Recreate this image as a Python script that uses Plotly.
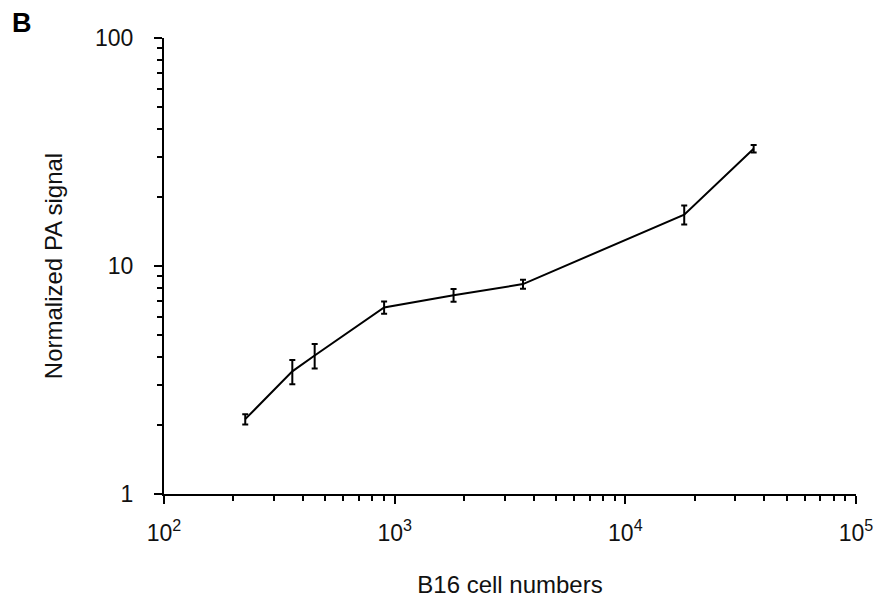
import plotly.graph_objects as go

cells = [225, 360, 450, 900, 1800, 3600, 18000, 36000]
signal = [2.13, 3.45, 4.05, 6.58, 7.45, 8.33, 16.8, 32.7]
err = [0.11, 0.42, 0.5, 0.4, 0.48, 0.38, 1.6, 1.2]

x_ticks = [100, 1000, 10000, 100000]
x_ticktext = ["10<sup>2</sup>", "10<sup>3</sup>", "10<sup>4</sup>", "10<sup>5</sup>"]
y_ticks = [1, 10, 100]
y_ticktext = ["1", "10", "100"]

x_minor = [m * 10 ** e for e in (2, 3, 4) for m in range(2, 10)]
y_minor = [m * 10 ** e for e in (0, 1) for m in range(2, 10)]

font = "Liberation Sans, Arial, sans-serif"

fig = go.Figure()
fig.add_trace(go.Scatter(
    x=cells, y=signal, mode="lines",
    line=dict(color="black", width=2),
    error_y=dict(type="data", array=err, visible=True, color="black",
                 thickness=2, width=3),
    showlegend=False,
))

fig.update_layout(
    width=878, height=598,
    margin=dict(l=164, r=22, t=38, b=104),
    plot_bgcolor="white", paper_bgcolor="white",
    font=dict(family=font, size=23, color="#111111"),
    xaxis=dict(
        type="log", range=[2, 5], tickvals=x_ticks, ticktext=x_ticktext,
        automargin=False,
        showgrid=False, zeroline=False, showline=True, linecolor="black", linewidth=2,
        ticks="outside", ticklen=8, tickwidth=2, tickcolor="black",
        ticklabelstandoff=9,
        minor=dict(tickvals=x_minor, ticks="outside", ticklen=5, tickwidth=2,
                   tickcolor="black", showgrid=False),
        title=dict(text="B16 cell numbers", standoff=34, font=dict(size=24)),
        tickfont=dict(size=23),
    ),
    yaxis=dict(
        type="log", range=[0, 2], tickvals=y_ticks, ticktext=y_ticktext,
        automargin=False,
        showgrid=False, zeroline=False, showline=True, linecolor="black", linewidth=2,
        ticks="outside", ticklen=8, tickwidth=2, tickcolor="black",
        ticklabelstandoff=16,
        minor=dict(tickvals=y_minor, ticks="outside", ticklen=5, tickwidth=2,
                   tickcolor="black", showgrid=False),
        title=dict(text="Normalized PA signal", standoff=26, font=dict(size=24)),
        tickfont=dict(size=23),
    ),
    annotations=[dict(text="<b>B</b>", x=-(164 - 10) / 692, y=1 + (38 - 6) / 456,
                      xref="paper", yref="paper",
                      xanchor="left", yanchor="top", showarrow=False,
                      font=dict(size=27, family=font, color="black"))],
)

fig.write_html("out.html")
